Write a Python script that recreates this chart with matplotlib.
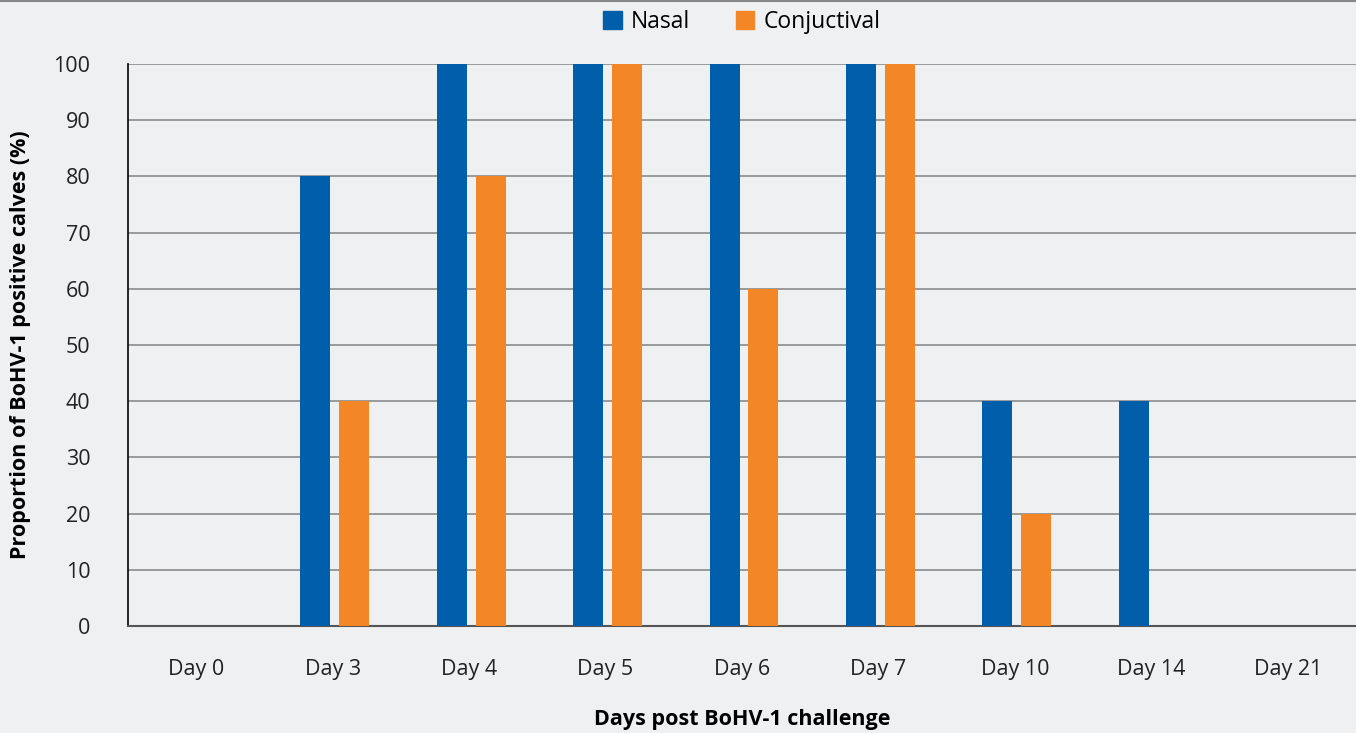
import numpy as np
import matplotlib.pyplot as plt
from matplotlib.patches import Patch

plt.rcParams['font.family'] = ['Open Sans', 'DejaVu Sans']

# data
days = ['Day 0', 'Day 3', 'Day 4', 'Day 5', 'Day 6', 'Day 7', 'Day 10', 'Day 14', 'Day 21']
nasal = [0, 80, 100, 100, 100, 100, 40, 40, 0]
conjunctival = [0, 40, 80, 100, 60, 100, 20, 0, 0]

bg = '#eff0f2'
blue = '#005eaa'
orange = '#f38626'

fig = plt.figure(figsize=(13.56, 7.33), dpi=100, facecolor=bg)
ax = fig.add_axes([128/1356, 1-626/733, 1228/1356, (626-64)/733])
ax.set_facecolor(bg)

x = np.arange(len(days))
w = 0.22
ax.bar(x - 0.128, nasal, w, color=blue, zorder=3)
ax.bar(x + 0.157, conjunctival, w, color=orange, zorder=3)

ax.set_xlim(-0.5, len(days) - 0.5)
ax.set_ylim(0, 100)
ax.set_yticks(range(0, 101, 10))
ax.set_xticks(x)
ax.set_xticklabels(days)
ax.yaxis.grid(True, color='#8a8a8a', lw=1.2, zorder=0)
ax.tick_params(length=0, labelsize=15.5, colors='#222222')
ax.tick_params(axis='x', pad=24)
ax.tick_params(axis='y', pad=27)

for s in ['top', 'right']:
    ax.spines[s].set_visible(False)
ax.spines['left'].set_color('black')
ax.spines['left'].set_linewidth(1.2)
ax.spines['bottom'].set_color('#555555')
ax.spines['bottom'].set_linewidth(1.5)

ax.set_ylabel('Proportion of BoHV-1 positive calves (%)', fontsize=15.5, fontweight='bold')
ax.yaxis.set_label_coords(-97/1228, 0.5)
fig.text(742/1356, 1-719/733, 'Days post BoHV-1 challenge', ha='center', va='center', fontsize=15.5, fontweight='bold')

# top rule
fig.add_artist(plt.Line2D([0, 1], [0.999, 0.999], color='#888888', lw=1.5, transform=fig.transFigure))

handles = [Patch(color=blue, label='Nasal'), Patch(color=orange, label='Conjuctival')]
fig.legend(handles=handles, loc='center', bbox_to_anchor=(742/1356, 1-22/733), ncol=2, frameon=False,
           fontsize=16.5, handlelength=0.8, handleheight=0.8, handletextpad=0.4, columnspacing=2.0)

fig.savefig('out.png', dpi=100, facecolor=bg)
